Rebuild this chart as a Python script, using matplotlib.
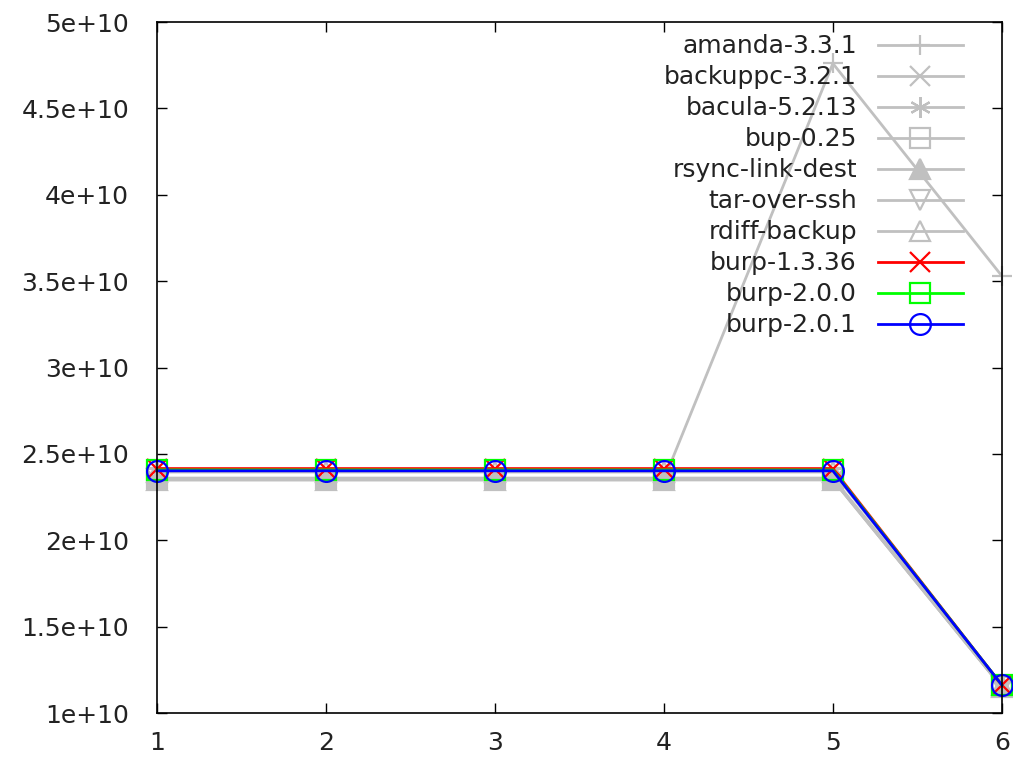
import matplotlib
matplotlib.use('Agg')
import matplotlib.pyplot as plt
from matplotlib.ticker import FuncFormatter, MultipleLocator

# backup runs 1..6, bytes used on the server
runs = [1, 2, 3, 4, 5, 6]

amanda = [2.35e10, 2.35e10, 2.35e10, 2.35e10, 4.76e10, 3.53e10]
backuppc = [2.35e10, 2.35e10, 2.35e10, 2.35e10, 2.35e10, 1.15e10]
bacula = [2.355e10, 2.355e10, 2.355e10, 2.355e10, 2.355e10, 1.155e10]
bup = [2.36e10, 2.36e10, 2.36e10, 2.36e10, 2.36e10, 1.155e10]
rsync_link_dest = [2.35e10, 2.35e10, 2.35e10, 2.35e10, 2.35e10, 1.15e10]
tar_over_ssh = [2.355e10, 2.355e10, 2.355e10, 2.355e10, 2.355e10, 1.15e10]
rdiff_backup = [2.395e10, 2.395e10, 2.395e10, 2.395e10, 2.395e10, 1.16e10]
burp_1_3_36 = [2.415e10, 2.415e10, 2.415e10, 2.415e10, 2.415e10, 1.162e10]
burp_2_0_0 = [2.407e10, 2.407e10, 2.407e10, 2.407e10, 2.407e10, 1.162e10]
burp_2_0_1 = [2.402e10, 2.402e10, 2.402e10, 2.402e10, 2.402e10, 1.162e10]

GRAY = '#c0c0c0'
series = [
    ('amanda-3.3.1', amanda, GRAY, '+', 'none'),
    ('backuppc-3.2.1', backuppc, GRAY, 'x', 'none'),
    ('bacula-5.2.13', bacula, GRAY, (6, 2, 0), 'none'),
    ('bup-0.25', bup, GRAY, 's', 'none'),
    ('rsync-link-dest', rsync_link_dest, GRAY, '^', GRAY),
    ('tar-over-ssh', tar_over_ssh, GRAY, 'v', 'none'),
    ('rdiff-backup', rdiff_backup, GRAY, '^', 'none'),
    ('burp-1.3.36', burp_1_3_36, '#ff0000', 'x', 'none'),
    ('burp-2.0.0', burp_2_0_0, '#00ff00', 's', 'none'),
    ('burp-2.0.1', burp_2_0_1, '#0000ff', 'o', 'none'),
]

plt.rcParams['font.family'] = 'DejaVu Sans'
plt.rcParams['font.size'] = 18

fig = plt.figure(figsize=(10.13, 7.59), dpi=100)
ax = fig.add_axes([0.155, 0.0606, 0.834, 0.9104])

for name, vals, col, mk, fc in series:
    ax.plot(runs, vals, color=col, lw=2, marker=mk, markersize=15,
            markerfacecolor=fc, markeredgecolor=col, markeredgewidth=1.6,
            label=name, clip_on=False)

ax.set_xlim(1, 6)
ax.set_ylim(1e10, 5e10)
ax.xaxis.set_major_locator(MultipleLocator(1))
ax.yaxis.set_major_locator(MultipleLocator(0.5e10))
ax.yaxis.set_major_formatter(FuncFormatter(lambda v, p: '%g' % v))
ax.tick_params(direction='in', length=7, width=1, top=True, right=True,
               labelsize=18, colors='black', labelcolor='#222222')
ax.tick_params(axis='x', pad=13)
ax.tick_params(axis='y', pad=20)
for sp in ax.spines.values():
    sp.set_linewidth(1.2)
    sp.set_zorder(5)

leg = ax.legend(loc='upper right', bbox_to_anchor=(0.954, 0.982),
                frameon=False, markerfirst=False, fontsize=18,
                handlelength=3.4, handletextpad=0.84, labelspacing=0.28,
                borderpad=0, borderaxespad=0)
for t in leg.get_texts():
    t.set_color('#222222')

fig.savefig('out.png', dpi=100)
